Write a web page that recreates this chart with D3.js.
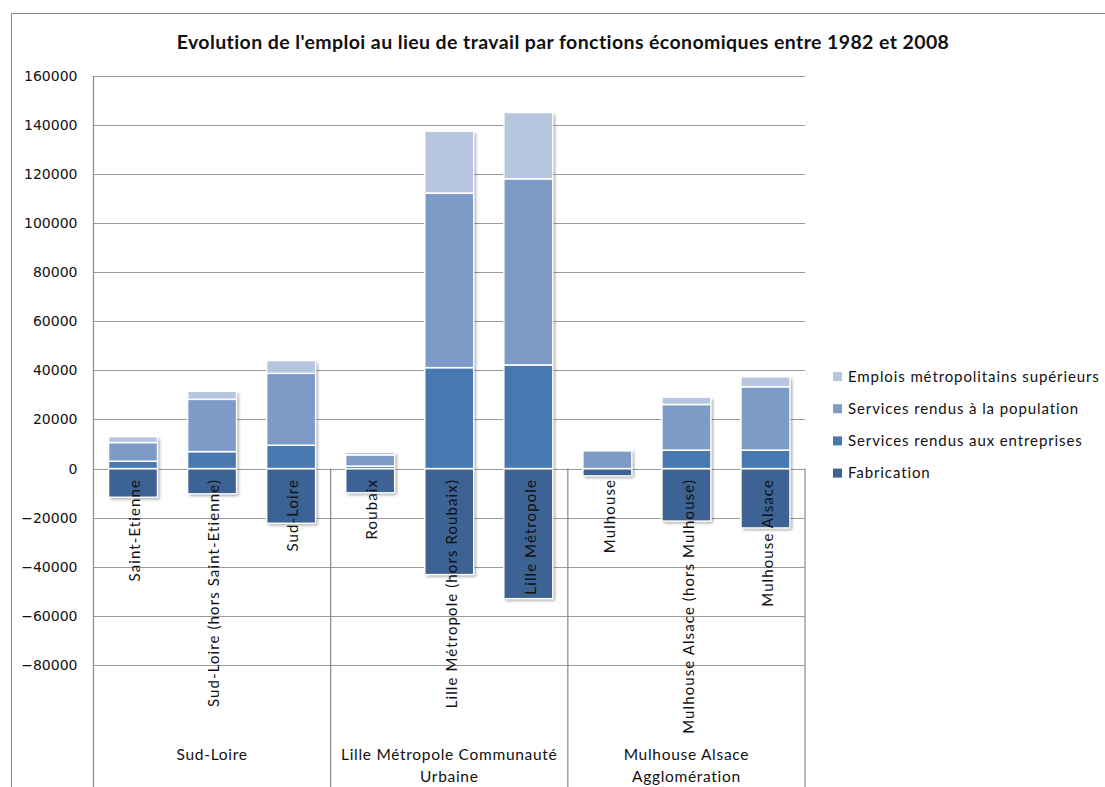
<!DOCTYPE html>
<html>
<head>
<meta charset="utf-8">
<script src="https://cdn.jsdelivr.net/npm/d3@7"></script>
<style>
  body { margin: 0; background: #fff; overflow: hidden; }
</style>
</head>
<body>
<div id="canvas"></div>
<script>

// categories (bars) and their groups
var categories = ["Saint-Etienne", "Sud-Loire (hors Saint-Etienne)", "Sud-Loire",
                  "Roubaix", "Lille Métropole (hors Roubaix)", "Lille Métropole",
                  "Mulhouse", "Mulhouse Alsace (hors Mulhouse)", "Mulhouse Alsace"];
var groups = [["Sud-Loire"], ["Lille Métropole Communauté", "Urbaine"], ["Mulhouse Alsace", "Agglomération"]];

// series values
var fabrication = [-11700, -10300, -22300, -9900, -43200, -53000, -3000, -21400, -24200];
var entreprises = [3000, 6900, 9500, 1000, 41100, 42200, 0, 7500, 7500];
var population  = [7600, 21300, 29300, 4600, 71100, 75800, 7300, 18600, 25800];
var emplois     = [2400, 3300, 5200, 1100, 25200, 27000, 500, 3000, 4100];

var seriesNames = ["Fabrication", "Services rendus aux entreprises",
                   "Services rendus à la population", "Emplois métropolitains supérieurs"];
var seriesColors = ["#3d6394", "#4878b0", "#7e9bc8", "#b7c6df"];

var yTicks = [-80000, -60000, -40000, -20000, 0, 20000, 40000, 60000, 80000, 100000, 120000, 140000, 160000];

var width = 1105, height = 787;
var plotLeft = 93.5, plotRight = 805, plotTop = 76, plotBottom = 787;

var svg = d3.select("#canvas").append("svg")
    .attr("width", width)
    .attr("height", height);

// chart border
svg.append("rect")
    .attr("x", 11.5).attr("y", 13.5)
    .attr("width", 1200).attr("height", 900)
    .attr("fill", "none").attr("stroke", "#8a8a8a");

var defs = svg.append("defs");
var f = defs.append("filter").attr("id", "shadow")
    .attr("x", "-20%").attr("y", "-20%").attr("width", "150%").attr("height", "150%");
f.append("feDropShadow").attr("dx", 2).attr("dy", 2).attr("stdDeviation", 1.8)
    .attr("flood-color", "#000").attr("flood-opacity", 0.35);

var y = d3.scaleLinear().domain([-80000, 160000]).range([665, 75.7]);
var x = d3.scaleBand().domain(categories).range([plotLeft, plotRight])
    .paddingInner(0.38).paddingOuter(0.19);
var step = x.step();

// gridlines
svg.append("g").selectAll("line").data(yTicks).enter().append("line")
    .attr("x1", plotLeft).attr("x2", plotRight)
    .attr("y1", function (d) { return Math.round(y(d)) + 0.5; })
    .attr("y2", function (d) { return Math.round(y(d)) + 0.5; })
    .style("stroke", "#9a9a9a").style("stroke-width", 1.2);

// value axis
var yAxis = d3.axisLeft(y).tickValues(yTicks).tickFormat(d3.format("d")).tickSize(0).tickPadding(16);
var ag = svg.append("g").attr("transform", "translate(" + plotLeft + ",0)").call(yAxis);
ag.select(".domain").remove();
ag.selectAll("text")
    .attr("font-family", "DejaVu Sans")
    .attr("font-size", "14px")
    .attr("fill", "#111");

svg.append("line")
    .attr("x1", plotLeft).attr("x2", plotLeft).attr("y1", plotTop).attr("y2", plotBottom)
    .style("stroke", "#8a8a8a").style("stroke-width", 1.2);

// group separators under the zero line
var seps = [3, 6, 9];
svg.append("g").selectAll("line").data(seps).enter().append("line")
    .attr("x1", function (d) { return plotLeft + d * step; })
    .attr("x2", function (d) { return plotLeft + d * step; })
    .attr("y1", y(0)).attr("y2", plotBottom)
    .style("stroke", "#8a8a8a").style("stroke-width", 1.2);

// stacked bars
var rows = categories.map(function (c, i) {
    return { cat: c, Fabrication: fabrication[i],
             "Services rendus aux entreprises": entreprises[i],
             "Services rendus à la population": population[i],
             "Emplois métropolitains supérieurs": emplois[i] };
});
var stack = d3.stack().keys(seriesNames).offset(d3.stackOffsetDiverging);
var stacked = stack(rows);

function barTop(i) { return d3.max(stacked, function (s) { return s[i][1]; }); }
function barBottom(i) { return d3.min(stacked, function (s) { return s[i][0]; }); }

// shadow behind each whole bar
svg.append("g").selectAll("rect").data(rows).enter().append("rect")
    .attr("x", function (d) { return x(d.cat); })
    .attr("width", x.bandwidth())
    .attr("y", function (d, i) { return y(barTop(i)); })
    .attr("height", function (d, i) { return y(barBottom(i)) - y(barTop(i)); })
    .attr("fill", "#fff")
    .attr("filter", "url(#shadow)");

svg.append("g").selectAll("g").data(stacked).enter().append("g")
    .attr("fill", function (d, i) { return seriesColors[i]; })
    .selectAll("rect").data(function (d) { return d; }).enter().append("rect")
    .attr("x", function (d) { return x(d.data.cat); })
    .attr("width", x.bandwidth())
    .attr("y", function (d) { return y(Math.max(d[0], d[1])); })
    .attr("height", function (d) { return Math.abs(y(d[0]) - y(d[1])); })
    .style("stroke", "#fff").style("stroke-width", 1.5);

// rotated category labels
svg.append("g").selectAll("text").data(categories).enter().append("text")
    .attr("transform", function (d) {
        return "translate(" + (x(d) + x.bandwidth() / 2 + 2) + ",479) rotate(-90)";
    })
    .attr("text-anchor", "end")
    .attr("dy", "0.35em")
    .attr("font-family", "Lato")
    .attr("font-size", "15px")
    .attr("letter-spacing", "1.1px")
    .attr("fill", "#111")
    .text(function (d) { return d; });

// group labels
var gl = svg.append("g").selectAll("text").data(groups).enter().append("text")
    .attr("x", function (d, i) { return plotLeft + (i * 3 + 1.5) * step; })
    .attr("y", 760)
    .attr("text-anchor", "middle")
    .attr("font-family", "Lato")
    .attr("font-size", "15.5px")
    .attr("letter-spacing", "0.7px")
    .attr("fill", "#111");
gl.selectAll("tspan").data(function (d) { return d; }).enter().append("tspan")
    .attr("x", function () { return d3.select(this.parentNode).attr("x"); })
    .attr("dy", function (d, i) { return i === 0 ? 0 : 22; })
    .text(function (d) { return d; });

// title
svg.append("text")
    .attr("x", 563).attr("y", 49)
    .attr("text-anchor", "middle")
    .attr("font-family", "Lato")
    .attr("font-weight", "bold")
    .attr("font-size", "19.5px")
    .attr("letter-spacing", "0.4px")
    .attr("fill", "#111")
    .text("Evolution de l'emploi au lieu de travail par fonctions économiques entre 1982 et 2008");

// legend (top entry is the last series)
var legendOrder = seriesNames.slice().reverse();
var lg = svg.append("g").selectAll("g").data(legendOrder).enter().append("g")
    .attr("transform", function (d, i) { return "translate(833," + (376.5 + i * 32.2) + ")"; });
lg.append("rect")
    .attr("x", 0).attr("y", -4.5).attr("width", 9).attr("height", 9)
    .attr("fill", function (d) { return seriesColors[seriesNames.indexOf(d)]; });
lg.append("text")
    .attr("x", 15).attr("dy", "0.35em")
    .attr("font-family", "Lato")
    .attr("font-size", "15px")
    .attr("letter-spacing", "0.9px")
    .attr("fill", "#111")
    .text(function (d) { return d; });

</script>
</body>
</html>
